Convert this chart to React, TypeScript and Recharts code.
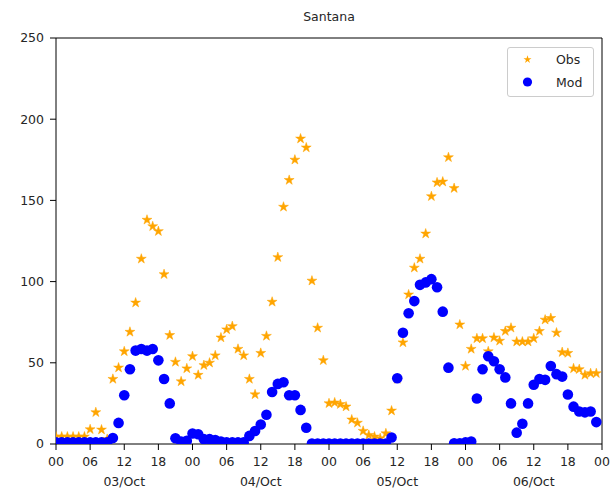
import * as React from "react";
import {
  ScatterChart,
  Scatter,
  XAxis,
  YAxis,
  Legend,
  ReferenceLine,
} from "recharts";

// Hourly station values, 03/Oct 00h .. 06/Oct 23h
const obsValues: number[] = [
  4.5, 4.5, 4.5, 4.5, 4.5, 4.5, 9, 19.5, 8.8, 3, 40, 47, 57, 69, 87, 114, 138, 134, 131, 104.5, 67, 50.5, 38.5, 46.5,
  54, 42.5, 48.5, 50, 54.5, 65.5, 70.5, 72.5, 58.5, 54.5, 40, 30.5, 56, 66.5, 87.5, 115, 146, 162.5, 175, 188, 182.5, 100.5, 71.5, 51.5,
  25, 25.5, 24.5, 23, 15, 13, 8, 5.5, 4.5, 3.5, 6.5, 20.5, 40, 62.5, 92, 108.5, 114, 129.5, 152.5, 161, 161.5, 176.5, 157.5, 73.5,
  48, 58.5, 65, 65, 57, 65.5, 63.5, 69.5, 71.5, 63, 63, 63, 65, 69.5, 76.5, 77.5, 68.5, 56.5, 56, 46.5, 46, 42.5, 43.5, 43.5,
];

const modValues: number[] = [
  1, 1, 1, 1, 1, 1, 1, 1, 1, 1, 3.7, 13, 30, 46, 57.5, 58.5, 57.5, 58.5, 51.5, 40, 25, 3.5, 1.5, 2,
  6.5, 6, 3, 3, 2.5, 1.5, 1, 1, 1, 1, 5, 8, 12, 18, 32, 37, 38, 30, 30, 21, 10, 0.3, 0.3, 0.3,
  0.3, 0.3, 0.3, 0.3, 0.3, 0.3, 0.3, 0.3, 0.3, 0.3, 0.3, 4, 40.5, 68.5, 80.5, 88, 98, 99.5, 101.5, 96.5, 81.5, 47, 0.5, 0.5,
  1, 1.5, 28, 46, 54, 51, 46, 41, 25, 7, 12.5, 25, 36.5, 40, 39.5, 48, 43, 41.5, 30.5, 23, 20, 19.5, 20, 13.5,
];

const hourTicks = [0, 6, 12, 18, 24, 30, 36, 42, 48, 54, 60, 66, 72, 78, 84, 90, 96];
const hourLabels = ["00", "06", "12", "18"];
const dayLabels = ["03/Oct", "04/Oct", "05/Oct", "06/Oct"];
const valueTicks = [0, 50, 100, 150, 200, 250];

const obsData = obsValues.map((value, hour) => ({ hour, value }));
const modData = modValues.map((value, hour) => ({ hour, value }));

const FONT = "'DejaVu Sans', sans-serif";
const TEXT_COLOR = "#262626";

function starPath(cx: number, cy: number, r: number): string {
  const inner = r * 0.381966;
  let d = "";
  for (let i = 0; i < 10; i++) {
    const rad = i % 2 === 0 ? r : inner;
    const a = -Math.PI / 2 + (i * Math.PI) / 5;
    d += (i === 0 ? "M" : "L") + (cx + rad * Math.cos(a)).toFixed(2) + "," + (cy + rad * Math.sin(a)).toFixed(2);
  }
  return d + "Z";
}

function StarShape(props: any) {
  const { cx, cy } = props;
  return <path d={starPath(cx, cy, 5.2)} fill="orange" stroke="orange" strokeWidth={0.5} />;
}

function DotShape(props: any) {
  const { cx, cy } = props;
  return <circle cx={cx} cy={cy} r={5.3} fill="blue" />;
}

function HourTick(props: any) {
  const { x, y, payload } = props;
  const h = payload.value as number;
  const day = Math.floor(h / 24);
  return (
    <g>
      <text x={x} y={y + 9} textAnchor="middle" fontSize={12.5} fontFamily={FONT} fill={TEXT_COLOR}>
        {hourLabels[(h % 24) / 6]}
      </text>
      {h % 24 === 12 && (
        <text x={x} y={y + 28.5} textAnchor="middle" fontSize={12.5} fontFamily={FONT} fill={TEXT_COLOR}>
          {dayLabels[day]}
        </text>
      )}
    </g>
  );
}

function LegendBox() {
  return (
    <div
      style={{
        width: 87,
        height: 50,
        boxSizing: "border-box",
        border: "1px solid #cccccc",
        borderRadius: 3,
        background: "rgba(255,255,255,0.8)",
      }}
    >
      <svg width={85} height={48} style={{ display: "block" }}>
        <path d={starPath(19.5, 11.5, 4.2)} fill="orange" />
        <text x={48} y={11.5} dy="0.36em" fontSize={12.5} fontFamily={FONT} fill={TEXT_COLOR}>
          Obs
        </text>
        <circle cx={19.5} cy={34} r={4.6} fill="blue" />
        <text x={48} y={34} dy="0.36em" fontSize={12.5} fontFamily={FONT} fill={TEXT_COLOR}>
          Mod
        </text>
      </svg>
    </div>
  );
}

export default function App() {
  return (
    <div style={{ position: "absolute", left: 0, top: 0, background: "#fff" }}>
      <ScatterChart width={611} height={489} margin={{ top: 38, right: 9, left: 0, bottom: 0 }}>
        <XAxis
          type="number"
          dataKey="hour"
          domain={[0, 96]}
          ticks={hourTicks}
          interval={0}
          allowDataOverflow
          height={45}
          tickSize={6}
          tickMargin={7}
          stroke="#000"
          tickLine={{ stroke: "#000" }}
          tick={<HourTick />}
        />
        <YAxis
          type="number"
          dataKey="value"
          domain={[0, 250]}
          ticks={valueTicks}
          interval={0}
          allowDataOverflow
          width={56}
          tickSize={6}
          tickMargin={6}
          stroke="#000"
          tickLine={{ stroke: "#000" }}
          tick={{ fontSize: 12.5, fontFamily: FONT, fill: TEXT_COLOR }}
        />
        <ReferenceLine y={250} stroke="#000" />
        <ReferenceLine x={96} stroke="#000" />
        <Scatter name="Obs" data={obsData} shape={<StarShape />} isAnimationActive={false} />
        <Scatter name="Mod" data={modData} shape={<DotShape />} isAnimationActive={false} />
        <Legend
          layout="vertical"
          align="center"
          verticalAlign="middle"
          wrapperStyle={{ left: 507, top: 47, width: 87, height: 50 }}
          content={() => <LegendBox />}
        />
        <text x={329} y={21} textAnchor="middle" fontSize={12.5} fontFamily={FONT} fill={TEXT_COLOR}>
          Santana
        </text>
      </ScatterChart>
    </div>
  );
}
